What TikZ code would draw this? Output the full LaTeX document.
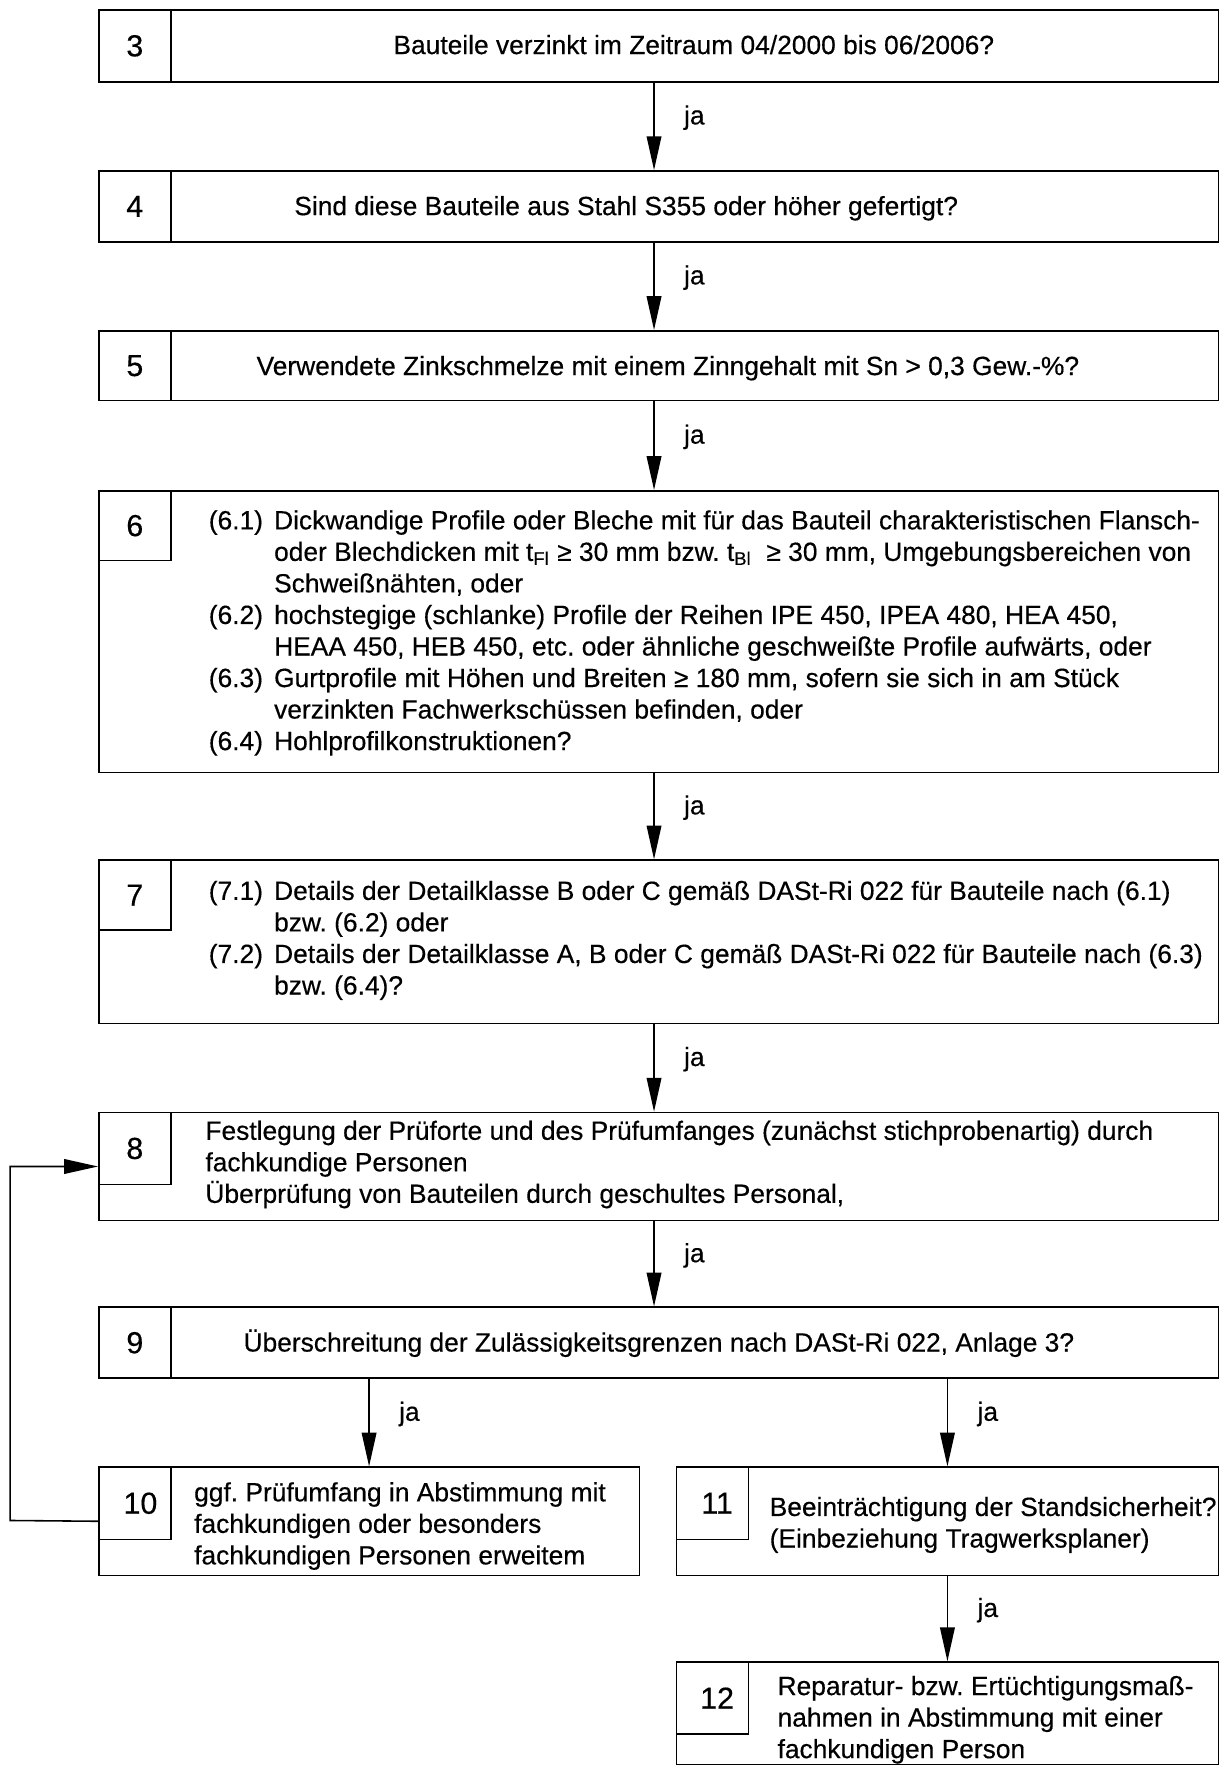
\documentclass[tikz,border=0pt]{standalone}
\usepackage{fontspec}
\setmainfont[FakeBold=0.4]{Liberation Sans}
\usepackage{array}
\usetikzlibrary{positioning,arrows.meta}

\newcommand\flowfont{\fontsize{11.7}{14}\selectfont\frenchspacing}
\newcommand\nrfont{\fontsize{13.5}{14}\selectfont}

\begin{document}
\begin{tikzpicture}[x=0.5pt, y=-0.5pt,
  box/.style 2 args={draw, line width=0.7pt, anchor=north west, inner sep=0pt, minimum width=#1, minimum height=#2},
  nr/.style={draw, line width=0.7pt, anchor=north west, inner sep=0pt, minimum width=32pt, minimum height=#1, font=\nrfont},
  txt/.style={font=\flowfont, inner sep=0pt, anchor=base},
  multi/.style={font=\flowfont, inner sep=0pt, anchor=north west},
  ja/.style={font=\flowfont, inner sep=0pt, right=13pt, pos=0.4},
  arr/.style={draw=black, line width=0.7pt, -{Triangle[length=15pt, width=6.5pt]}}
]
\useasboundingbox (0,0) rectangle (1083,1568);

\node[box={497pt}{32pt}] (b3) at (87,8) {};
\node[box={497pt}{31.5pt}] (b4) at (87,151) {};
\node[box={497pt}{31pt}] (b5) at (87,293) {};
\node[box={497pt}{125pt}] (b6) at (87,435) {};
\node[box={497pt}{72.5pt}] (b7) at (87,763) {};
\node[box={497pt}{48pt}] (b8) at (87,987) {};
\node[box={497pt}{31.5pt}] (b9) at (87,1160) {};
\node[box={240pt}{48pt}] (b10) at (87,1302) {};
\node[box={240.5pt}{48pt}] (b11) at (600,1302) {};
\node[box={240.5pt}{45.5pt}] (b12) at (600,1475) {};

\node[nr=32pt] (n3) at (87,8) {3};
\node[nr=31.5pt] (n4) at (87,151) {4};
\node[nr=31pt] (n5) at (87,293) {5};
\node[nr=31pt] (n6) at (87,435) {6};
\node[nr=31pt] (n7) at (87,763) {7};
\node[nr=32pt] (n8) at (87,987) {8};
\node[nr=31.5pt] (n9) at (87,1160) {9};
\node[nr=32pt] (n10) at (87,1302) {\hspace{5pt}10};
\node[nr=32pt] (n11) at (600,1302) {\hspace{4pt}11};
\node[nr=32pt] (n12) at (600,1475) {\hspace{4pt}12};

\node[txt] (t3) at (616,48) {Bauteile verzinkt im Zeitraum 04/2000 bis 06/2006?};
\node[txt] (t4) at (556,191) {Sind diese Bauteile aus Stahl S355 oder höher gefertigt?};
\node[txt] (t5) at (593,333) {Verwendete Zinkschmelze mit einem Zinngehalt mit Sn > 0,3 Gew.-\%?};
\node[multi] (t6) at (185,450) {\begin{tabular}{@{}p{29pt}@{}l@{}}
(6.1) & Dickwandige Profile oder Bleche mit für das Bauteil charakteristischen Flansch-\\
 & oder Blechdicken mit t\textsubscript{Fl} ≥ 30 mm bzw. t\textsubscript{Bl} \ ≥ 30 mm, Umgebungsbereichen von\\
 & Schweißnähten, oder\\
(6.2) & hochstegige (schlanke) Profile der Reihen IPE 450, IPEA 480, HEA 450,\\
 & HEAA 450, HEB 450, etc. oder ähnliche geschweißte Profile aufwärts, oder\\
(6.3) & Gurtprofile mit Höhen und Breiten ≥ 180 mm, sofern sie sich in am Stück\\
 & verzinkten Fachwerkschüssen befinden, oder\\
(6.4) & Hohlprofilkonstruktionen?
\end{tabular}};
\node[multi] (t7) at (185,779) {\begin{tabular}{@{}p{29pt}@{}l@{}}
(7.1) & Details der Detailklasse B oder C gemäß DASt-Ri 022 für Bauteile nach (6.1)\\
 & bzw. (6.2) oder\\
(7.2) & Details der Detailklasse A, B oder C gemäß DASt-Ri 022 für Bauteile nach (6.3)\\
 & bzw. (6.4)?
\end{tabular}};
\node[multi] (t8) at (182,992) {\begin{tabular}{@{}l@{}}
Festlegung der Prüforte und des Prüfumfanges (zunächst stichprobenartig) durch\\
fachkundige Personen\\
Überprüfung von Bauteilen durch geschultes Personal,
\end{tabular}};
\node[txt] (t9) at (585,1200) {Überschreitung der Zulässigkeitsgrenzen nach DASt-Ri 022, Anlage 3?};
\node[multi] (t10) at (172,1313) {\begin{tabular}{@{}l@{}}
ggf. Prüfumfang in Abstimmung mit\\
fachkundigen oder besonders\\
fachkundigen Personen erweitem
\end{tabular}};
\node[multi] (t11) at (683,1326) {\begin{tabular}{@{}l@{}}
Beeinträchtigung der Standsicherheit?\\
(Einbeziehung Tragwerksplaner)
\end{tabular}};
\node[multi] (t12) at (690,1485) {\begin{tabular}{@{}l@{}}
Reparatur- bzw. Ertüchtigungsmaß-\\
nahmen in Abstimmung mit einer\\
fachkundigen Person
\end{tabular}};

\coordinate (rueck) at (9,1350);

\draw[arr] ([xshift=-2pt]b3.south) -- node[ja] {ja} ([xshift=-2pt]b4.north);
\draw[arr] ([xshift=-2pt]b4.south) -- node[ja] {ja} ([xshift=-2pt]b5.north);
\draw[arr] ([xshift=-2pt]b5.south) -- node[ja] {ja} ([xshift=-2pt]b6.north);
\draw[arr] ([xshift=-2pt]b6.south) -- node[ja] {ja} ([xshift=-2pt]b7.north);
\draw[arr] ([xshift=-2pt]b7.south) -- node[ja] {ja} ([xshift=-2pt]b8.north);
\draw[arr] ([xshift=-2pt]b8.south) -- node[ja] {ja} ([xshift=-2pt]b9.north);
\draw[arr] (b10.north |- b9.south) -- node[ja] {ja} (b10.north);
\draw[arr] (b11.north |- b9.south) -- node[ja] {ja} (b11.north);
\draw[arr] (b11.south) -- node[ja] {ja} (b12.north);
\draw[arr] (b10.west) -- (rueck) |- (b8.west);

\end{tikzpicture}
\end{document}
